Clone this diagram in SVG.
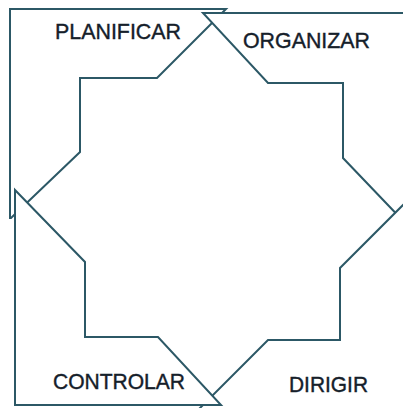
<svg xmlns="http://www.w3.org/2000/svg" width="403" height="408" viewBox="0 0 403 408">
<style>
.s{fill:#ffffff;stroke:#2c5866;stroke-width:2;stroke-linejoin:miter}
.t{font-family:"Liberation Sans",Arial,sans-serif;font-size:22px;fill:#15202a;stroke:#15202a;stroke-width:0.4}
</style>
<rect width="403" height="408" fill="#ffffff"/>
<g id="planificar">
<polygon class="s" points="10,9 226,9 157,78 80,78 80,152 11,218 10,218"/>
<text class="t" x="55" y="39" textLength="126" lengthAdjust="spacingAndGlyphs">PLANIFICAR</text>
</g>
<g id="organizar">
<polygon class="s" points="203,13 410,13 410,228 343,158 343,83 268,83"/>
<text class="t" x="243" y="48" textLength="127" lengthAdjust="spacingAndGlyphs">ORGANIZAR</text>
</g>
<g id="dirigir">
<polygon class="s" points="410,198 410,409 199,409 268,340 340,340 340,268"/>
<text class="t" x="289" y="392" textLength="79" lengthAdjust="spacingAndGlyphs">DIRIGIR</text>
</g>
<g id="controlar">
<polygon class="s" points="15,190 85,262 85,337 158,337 221,405 15,405"/>
<text class="t" x="53" y="389" textLength="132" lengthAdjust="spacingAndGlyphs">CONTROLAR</text>
</g>
<g id="connectors"></g>
</svg>
